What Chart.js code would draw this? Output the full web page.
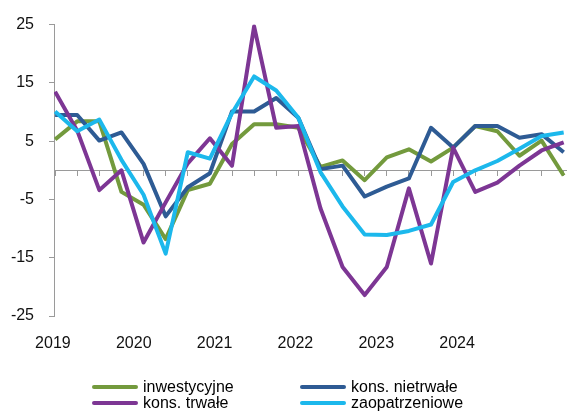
<!DOCTYPE html>
<html>
<head>
<meta charset="utf-8">
<script src="https://cdn.jsdelivr.net/npm/chart.js@4/dist/chart.umd.min.js"></script>
<style>
  body { margin: 0; background: #fff; }
  #wrap { position: relative; width: 567px; height: 411px; }
  #legenda {
    position: absolute; left: 92px; top: 379px;
    display: grid; grid-template-columns: 208px auto;
    font: 16px "Liberation Sans", Arial, sans-serif; line-height: 16px; color: #000;
  }
  .poz { display: flex; align-items: center; white-space: nowrap; height: 16px; }
  .poz span { display: inline-block; width: 46px; height: 4px; margin-right: 5px; border-radius: 2px; }
</style>
</head>
<body>
<div id="wrap">
  <canvas id="wykres" width="567" height="411"></canvas>
  <div id="legenda"></div>
</div>
<script>
// Kwartały (kategorie osi X)
const kwartaly = [
  '2019 Q1', '2019 Q2', '2019 Q3', '2019 Q4',
  '2020 Q1', '2020 Q2', '2020 Q3', '2020 Q4',
  '2021 Q1', '2021 Q2', '2021 Q3', '2021 Q4',
  '2022 Q1', '2022 Q2', '2022 Q3', '2022 Q4',
  '2023 Q1', '2023 Q2', '2023 Q3', '2023 Q4',
  '2024 Q1', '2024 Q2', '2024 Q3', '2024 Q4'
];
// Podpisy lat na osi X
const lata = ['2019', '2020', '2021', '2022', '2023', '2024'];
// Podpisy osi Y
const podpisyY = [-25, -15, -5, 5, 15, 25];

// Serie danych
const inwestycyjne = [5.3, 8.4, 8.4, -3.7, -5.9, -11.8, -3.4, -2.3, 4.5, 7.9, 7.9, 7.3,
  0.6, 1.7, -1.7, 2.2, 3.6, 1.5, 3.9, 7.6, 6.7, 2.5, 5.1, -0.9];
const konsNietrwale = [9.5, 9.5, 5.1, 6.5, 1.1, -7.9, -2.9, -0.5, 10.1, 10.1, 12.4, 9.0,
  0.2, 0.8, -4.5, -2.8, -1.4, 7.3, 3.9, 7.6, 7.6, 5.6, 6.2, 3.1];
const konsTrwale = [13.5, 6.8, -3.4, 0.0, -12.4, -5.5, 1.2, 5.5, 0.8, 24.7, 7.3, 7.6,
  -6.5, -16.6, -21.4, -16.6, -3.1, -16.0, 3.9, -3.7, -2.1, 0.8, 3.4, 4.8];
const zaopatrzeniowe = [10.1, 6.7, 8.7, 1.8, -4.2, -14.3, 3.1, 2.0, 9.8, 16.1, 13.7, 9.0,
  -0.3, -6.2, -11.0, -11.1, -10.4, -9.3, -2.0, 0.0, 1.6, 3.7, 5.9, 6.5];

const nazwy = ['inwestycyjne', 'kons. nietrwałe', 'kons. trwałe', 'zaopatrzeniowe'];
const kolory = ['#739A3D', '#2E5B94', '#7D3694', '#1CB8EC'];

// zakres osi X w jednostkach kwartałów
const X_MIN = -0.05;
const X_MAX = kwartaly.length - 1 + 0.15;
// podpisy lat stoją w oryginale trochę obok kwartałów
const indeksNaRok = (i) => 2019 + (i + 0.1) / 3.656;

const punkty = (seria) => seria.map((v, i) => ({ x: i, y: v }));

Chart.defaults.font.family = '"Liberation Sans", Arial, sans-serif';
Chart.defaults.font.size = 16;
Chart.defaults.color = '#111';

const szary = '#9a9a9a';
const serie = [inwestycyjne, konsNietrwale, konsTrwale, zaopatrzeniowe];

new Chart(document.querySelector('#wykres'), {
  type: 'line',
  data: {
    datasets: serie.map((s, i) => ({
      label: nazwy[i],
      data: punkty(s),
      borderColor: kolory[i],
      backgroundColor: kolory[i],
      borderWidth: 4,
      borderJoinStyle: 'round',
      pointRadius: 0,
      tension: 0,
      order: serie.length - i // ostatnia seria na wierzchu
    }))
  },
  options: {
    responsive: false,
    animation: false,
    layout: { padding: { top: 20, left: 0, right: 0, bottom: 0 } },
    plugins: { legend: { display: false }, tooltip: { enabled: false } },
    scales: {
      // oś X na poziomie zera, tylko kreska i znaczniki
      x: {
        type: 'linear',
        position: { y: 0 },
        min: X_MIN,
        max: X_MAX,
        afterBuildTicks: (scale) => { scale.ticks = kwartaly.map((k, i) => ({ value: i })); },
        ticks: { display: false },
        grid: { drawOnChartArea: false, drawTicks: true, tickLength: 5, color: szary },
        border: { display: true, color: szary, width: 1 }
      },
      // podpisy lat na dole
      lata: {
        type: 'linear',
        position: 'bottom',
        min: indeksNaRok(X_MIN),
        max: indeksNaRok(X_MAX),
        afterBuildTicks: (scale) => { scale.ticks = lata.map(l => ({ value: +l })); },
        afterFit: (scale) => { scale.height = 95; },
        ticks: { padding: 10, maxRotation: 0, autoSkip: false, callback: (v) => String(v) },
        grid: { display: false },
        border: { display: false }
      },
      y: {
        position: 'left',
        min: -25,
        max: 25,
        afterBuildTicks: (scale) => { scale.ticks = podpisyY.map(v => ({ value: v })); },
        afterFit: (scale) => { scale.width = 54; },
        ticks: { padding: 15 },
        grid: { drawOnChartArea: false, drawTicks: true, tickLength: 5, color: szary },
        border: { display: true, color: szary, width: 1 }
      }
    }
  }
});

// Legenda w dwóch kolumnach
const $legenda = document.querySelector('#legenda');
nazwy.forEach((n, i) => {
  const poz = document.createElement('div');
  poz.className = 'poz';
  const kreska = document.createElement('span');
  kreska.style.background = kolory[i];
  poz.appendChild(kreska);
  poz.appendChild(document.createTextNode(n));
  $legenda.appendChild(poz);
});
</script>
</body>
</html>
